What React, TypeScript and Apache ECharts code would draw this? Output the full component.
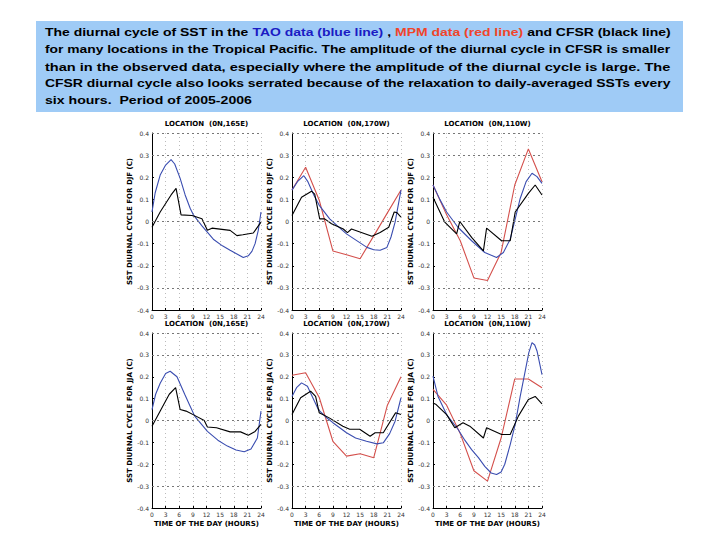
import React, { useEffect, useRef } from "react";
import * as echarts from "echarts";

// ---------- data ----------
const HOURS_3H = [0, 3, 6, 9, 12, 15, 18, 21, 24];
const X_TICKS = [0, 3, 6, 9, 12, 15, 18, 21, 24];
const Y_TICKS = [-0.4, -0.3, -0.2, -0.1, 0, 0.1, 0.2, 0.3, 0.4];
const Y_GRIDLINES = [-0.3, 0, 0.3, 0.4];

const LOCATIONS = ["LOCATION  (0N,165E)", "LOCATION  (0N,170W)", "LOCATION  (0N,110W)"];
const SEASONS = ["DJF", "JJA"];

// DJF 165E
const TAO_DJF_165E = [[0, 0.043], [0.7, 0.13], [1.8, 0.21], [3, 0.255], [4.2, 0.28], [5, 0.26], [6.2, 0.195], [7.3, 0.12], [8.4, 0.06], [9.1, 0.03], [11, -0.02], [13.5, -0.08], [15.5, -0.11], [17.2, -0.13], [19, -0.15], [20.1, -0.163], [21.2, -0.155], [22, -0.135], [22.7, -0.1], [23.4, -0.04], [24, 0.043]];
const CFSR_DJF_165E = [[0, -0.026], [1.8, 0.043], [4.2, 0.12], [5.3, 0.15], [6.4, 0.03], [8.8, 0.027], [11, 0.012], [12.2, -0.04], [13.2, -0.03], [17.2, -0.04], [18.7, -0.064], [20, -0.06], [22.3, -0.052], [24, -0.003]];
// DJF 170W
const MPM_DJF_170W = [0.142, 0.245, 0.096, -0.133, -0.15, -0.168, -0.065, 0.039, 0.142];
const TAO_DJF_170W = [[0, 0.142], [1.2, 0.18], [2.6, 0.207], [3.5, 0.18], [4.8, 0.12], [6, 0.073], [8.3, 0.012], [10, -0.02], [12, -0.056], [14.5, -0.09], [16.5, -0.117], [18, -0.128], [19.4, -0.13], [20.9, -0.117], [21.8, -0.07], [22.7, -0.003], [24, 0.142]];
const CFSR_DJF_170W = [[0, 0.027], [2.1, 0.11], [4.3, 0.137], [5, 0.124], [6.1, 0.012], [7.2, 0.012], [8.7, -0.01], [11.3, -0.034], [12.2, -0.05], [13.1, -0.034], [17.6, -0.067], [19.4, -0.05], [21.3, -0.026], [22.5, 0.043], [23.1, 0.04], [24, 0.02]];
// DJF 110W
const MPM_DJF_110W = [0.165, 0.03, -0.087, -0.255, -0.267, -0.14, 0.165, 0.328, 0.18];
const TAO_DJF_110W = [[0, 0.165], [1.5, 0.1], [3, 0.043], [5.5, -0.026], [8.5, -0.087], [11.4, -0.14], [14, -0.163], [15.5, -0.14], [17, -0.08], [18.2, 0.02], [19.2, 0.104], [20.5, 0.18], [21.8, 0.218], [22.9, 0.203], [24, 0.172]];
const CFSR_DJF_110W = [[0, 0.11], [2.6, -0.003], [5.2, -0.056], [5.9, 0], [8.5, -0.072], [11.1, -0.133], [11.8, -0.03], [15.1, -0.087], [17, -0.087], [18.1, 0.043], [21, 0.127], [22.5, 0.165], [24, 0.12]];
// JJA 165E
const TAO_JJA_165E = [[0, 0.05], [0.8, 0.12], [1.8, 0.17], [3, 0.215], [4, 0.225], [5.5, 0.2], [7.2, 0.12], [8.3, 0.07], [9.4, 0.02], [12.2, -0.05], [14.5, -0.09], [16.6, -0.117], [18.5, -0.135], [20.3, -0.143], [21.8, -0.13], [23.2, -0.08], [24, 0.043]];
const CFSR_JJA_165E = [[0, -0.026], [1.6, 0.035], [3.8, 0.12], [5.2, 0.15], [6.2, 0.05], [7.5, 0.043], [9.7, 0.02], [11.5, 0], [12.2, -0.03], [14.2, -0.033], [17.2, -0.052], [19.5, -0.052], [21.2, -0.067], [22.7, -0.05], [24, -0.018]];
// JJA 170W
const MPM_JJA_170W = [0.207, 0.218, 0.105, -0.095, -0.163, -0.152, -0.17, 0.07, 0.2];
const TAO_JJA_170W = [[0, 0.11], [1, 0.15], [2.1, 0.172], [3.4, 0.157], [5.8, 0.05], [7.5, 0.015], [9, -0.01], [12, -0.056], [14, -0.08], [16.4, -0.095], [18.7, -0.107], [20.1, -0.102], [21.5, -0.06], [22.7, -0.003], [24, 0.104]];
const CFSR_JJA_170W = [[0, 0.027], [1.9, 0.104], [4.1, 0.134], [5.2, 0.11], [6, 0.035], [8.2, 0.012], [11.2, -0.026], [12.7, -0.04], [14.9, -0.04], [17.2, -0.072], [18.3, -0.056], [20.1, -0.056], [22.8, 0.035], [24, 0.027]];
// JJA 110W
const MPM_JJA_110W = [0.142, 0.07, -0.06, -0.23, -0.277, -0.08, 0.19, 0.19, 0.15];
const TAO_JJA_110W = [[0, 0.203], [1.1, 0.11], [3, 0.027], [5.5, -0.04], [7, -0.09], [8.5, -0.133], [10, -0.17], [11.4, -0.21], [12.8, -0.24], [14, -0.247], [15, -0.235], [15.8, -0.2], [17, -0.11], [18.1, -0.018], [19.2, 0.11], [20.3, 0.226], [21.1, 0.31], [21.8, 0.356], [22.4, 0.345], [22.9, 0.318], [24, 0.21]];
const CFSR_JJA_110W = [[0, 0.08], [0.7, 0.073], [3, 0.027], [4.8, -0.033], [6.6, -0.01], [8.1, -0.026], [11.1, -0.08], [11.8, -0.033], [15.1, -0.064], [17, -0.064], [18.8, 0.02], [21, 0.096], [22.5, 0.11], [24, 0.076]];

const TEXT_LINES = [
  "The diurnal cycle of SST in the {b|TAO data (blue line)} , {r|MPM data (red line)} and CFSR (black line)",
  "for many locations in the Tropical Pacific. The amplitude of the diurnal cycle in CFSR is smaller",
  "than in the observed data, especially where the amplitude of the diurnal cycle is large. The",
  "CFSR diurnal cycle also looks serrated because of the relaxation to daily-averaged SSTs every",
  "six hours.  Period of 2005-2006",
];

const PANELS = [
  { row: 0, col: 0, tao: TAO_DJF_165E, mpm: null, cfsr: CFSR_DJF_165E },
  { row: 0, col: 1, tao: TAO_DJF_170W, mpm: MPM_DJF_170W, cfsr: CFSR_DJF_170W },
  { row: 0, col: 2, tao: TAO_DJF_110W, mpm: MPM_DJF_110W, cfsr: CFSR_DJF_110W },
  { row: 1, col: 0, tao: TAO_JJA_165E, mpm: null, cfsr: CFSR_JJA_165E },
  { row: 1, col: 1, tao: TAO_JJA_170W, mpm: MPM_JJA_170W, cfsr: CFSR_JJA_170W },
  { row: 1, col: 2, tao: TAO_JJA_110W, mpm: MPM_JJA_110W, cfsr: CFSR_JJA_110W },
];

// ---------- layout / style ----------
const GRID_LEFTS = [152, 292, 433];
const GRID_TOPS = [133, 333];
const GRID_HEIGHTS = [177, 175];
const GRID_W = 109;
const BLUE = "#3a4db0";
const RED = "#d4504c";
const SMALL_FONT = "DejaVu Sans";
const TEXT_FONT = 'bold 11px "Liberation Sans", Arial, sans-serif';

function measure(text: string): number {
  const c = document.createElement("canvas").getContext("2d");
  if (!c) return text.length * 6;
  c.font = TEXT_FONT;
  return c.measureText(text.replace(/\{[a-z]\|([^}]*)\}/g, "$1")).width;
}

export default function App() {
  const ref = useRef<HTMLDivElement>(null);
  useEffect(() => {
    if (!ref.current) return;
    const chart = echarts.init(ref.current, undefined, { renderer: "svg" });

    const grids: any[] = [];
    const xAxes: any[] = [];
    const yAxes: any[] = [];
    const series: any[] = [];
    const graphics: any[] = [];

    PANELS.forEach((p, i) => {
      const left = GRID_LEFTS[p.col];
      const top = GRID_TOPS[p.row];
      const h = GRID_HEIGHTS[p.row];
      grids.push({ left, top, width: GRID_W, height: h });
      xAxes.push({
        type: "value",
        gridIndex: i,
        min: X_TICKS[0],
        max: X_TICKS[X_TICKS.length - 1],
        interval: 3,
        name: p.row === 1 ? "TIME OF THE DAY (HOURS)" : "",
        nameLocation: "middle",
        nameGap: 12,
        nameTextStyle: { fontSize: 7, fontWeight: "bold", color: "#000", fontFamily: SMALL_FONT },
        axisLine: { show: true, onZero: false, lineStyle: { color: "#000", width: 1 } },
        axisTick: { show: true, inside: true, length: 2, lineStyle: { color: "#000" } },
        axisLabel: { fontSize: 6, color: "#333", margin: 3, fontFamily: SMALL_FONT },
        splitLine: { show: true, lineStyle: { type: [1, 3], color: "#bbb", width: 1 } },
      });
      yAxes.push({
        type: "value",
        gridIndex: i,
        min: Y_TICKS[0],
        max: Y_TICKS[Y_TICKS.length - 1],
        interval: 0.1,
        name: `SST DIURNAL CYCLE FOR ${SEASONS[p.row]} (C)`,
        nameLocation: "middle",
        nameRotate: 90,
        nameGap: 15,
        nameTextStyle: { fontSize: 7, fontWeight: "bold", color: "#000", fontFamily: SMALL_FONT },
        axisLine: { show: true, lineStyle: { color: "#000", width: 1 } },
        axisTick: { show: true, inside: true, length: 2, lineStyle: { color: "#000" } },
        axisLabel: {
          fontSize: 6,
          color: "#333",
          margin: 3,
          fontFamily: SMALL_FONT,
          formatter: (v: number) => (Math.abs(v) < 1e-9 ? "0" : v.toFixed(1)),
        },
        splitLine: { show: false },
      });
      if (p.mpm) {
        series.push({
          type: "line",
          name: "MPM",
          xAxisIndex: i,
          yAxisIndex: i,
          data: HOURS_3H.map((hr, k) => [hr, p.mpm![k]]),
          showSymbol: false,
          lineStyle: { color: RED, width: 1.1 },
          itemStyle: { color: RED },
        });
      }
      series.push({
        type: "line",
        name: "TAO",
        xAxisIndex: i,
        yAxisIndex: i,
        data: p.tao,
        showSymbol: false,
        lineStyle: { color: BLUE, width: 1.1 },
        itemStyle: { color: BLUE },
      });
      series.push({
        type: "line",
        name: "CFSR",
        xAxisIndex: i,
        yAxisIndex: i,
        data: p.cfsr,
        showSymbol: false,
        lineStyle: { color: "#000", width: 1.1 },
        itemStyle: { color: "#000" },
        markLine: {
          silent: true,
          symbol: "none",
          label: { show: false },
          lineStyle: { type: [2, 3], color: "#777", width: 1 },
          data: Y_GRIDLINES.map((v) => ({ yAxis: v })),
        },
      });
      graphics.push({
        type: "text",
        x: left + GRID_W / 2,
        y: top - 9,
        style: {
          text: LOCATIONS[p.col],
          fill: "#000",
          font: `bold 7px "${SMALL_FONT}"`,
          align: "center",
          verticalAlign: "middle",
        },
      });
    });

    // text box
    graphics.push({
      type: "rect",
      shape: { x: 36, y: 21, width: 647, height: 91 },
      style: { fill: "#9fcbf6" },
      z: -1,
    });
    const targetW = 626;
    const scales = TEXT_LINES.map((t) => targetW / measure(t));
    const avgScale = (scales[1] + scales[2] + scales[3]) / 3;
    TEXT_LINES.forEach((t, k) => {
      const s = k < 4 ? scales[k] : avgScale;
      graphics.push({
        type: "text",
        x: 45,
        y: 32.5 + k * 17.1,
        scaleX: s,
        style: {
          text: t,
          font: TEXT_FONT,
          fill: "#000",
          verticalAlign: "middle",
          rich: {
            b: { fill: "#1b1bc4", font: TEXT_FONT },
            r: { fill: "#f0452a", font: TEXT_FONT },
          },
        },
      });
    });

    chart.setOption({
      animation: false,
      backgroundColor: "#fff",
      grid: grids,
      xAxis: xAxes,
      yAxis: yAxes,
      series,
      graphic: graphics,
    });
    return () => chart.dispose();
  }, []);
  return (
    <div
      ref={ref}
      style={{ position: "absolute", left: 0, top: 0, width: 720, height: 540 }}
    />
  );
}
